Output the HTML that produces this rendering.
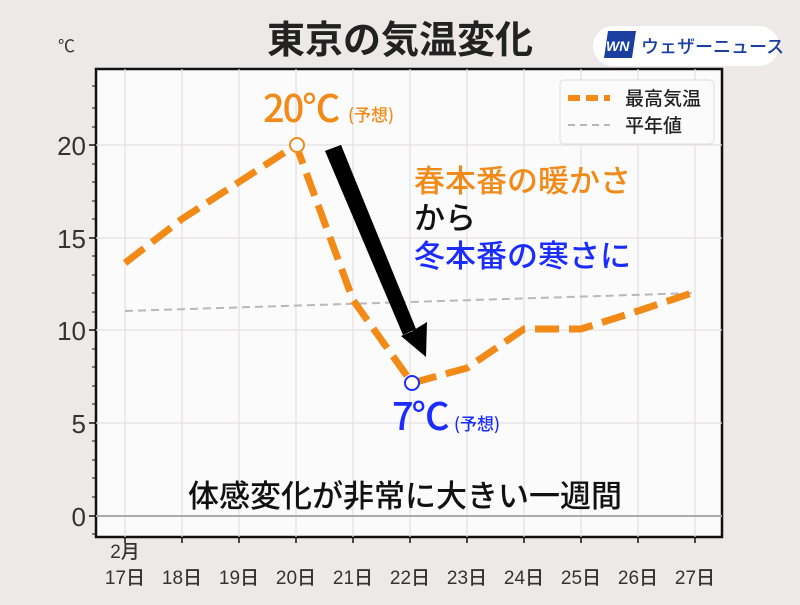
<!DOCTYPE html>
<html><head><meta charset="utf-8"><style>
body{margin:0;width:800px;height:600px;background:#ece9e8;overflow:hidden}
svg text{font-family:"Liberation Sans","Noto Sans CJK JP",sans-serif}
.m{font-family:"Noto Sans CJK JP","Liberation Sans",sans-serif;font-weight:500}
</style></head><body>
<svg width="800" height="600" viewBox="0 0 800 600">
<rect x="96" y="69" width="626" height="468" fill="#fcfbfc" stroke="#111" stroke-width="2.5"/>
<g stroke="#e3e0e2" stroke-width="1.2">
<line x1="125" y1="69" x2="125" y2="537"/><line x1="182" y1="69" x2="182" y2="537"/><line x1="239" y1="69" x2="239" y2="537"/><line x1="296" y1="69" x2="296" y2="537"/><line x1="353" y1="69" x2="353" y2="537"/><line x1="410" y1="69" x2="410" y2="537"/><line x1="467" y1="69" x2="467" y2="537"/><line x1="524" y1="69" x2="524" y2="537"/><line x1="581" y1="69" x2="581" y2="537"/><line x1="638" y1="69" x2="638" y2="537"/><line x1="695" y1="69" x2="695" y2="537"/>
<line x1="96" y1="145" x2="722" y2="145"/><line x1="96" y1="238" x2="722" y2="238"/><line x1="96" y1="330" x2="722" y2="330"/><line x1="96" y1="423" x2="722" y2="423"/>
</g>
<line x1="96" y1="516" x2="722" y2="516" stroke="#aaa" stroke-width="2"/>
<g stroke="#111" stroke-width="1.5">
<line x1="89" y1="145" x2="96" y2="145"/><line x1="89" y1="238" x2="96" y2="238"/><line x1="89" y1="330" x2="96" y2="330"/><line x1="89" y1="423" x2="96" y2="423"/><line x1="89" y1="516" x2="96" y2="516"/>
<line x1="125" y1="537" x2="125" y2="543"/><line x1="182" y1="537" x2="182" y2="543"/><line x1="239" y1="537" x2="239" y2="543"/><line x1="296" y1="537" x2="296" y2="543"/><line x1="353" y1="537" x2="353" y2="543"/><line x1="410" y1="537" x2="410" y2="543"/><line x1="467" y1="537" x2="467" y2="543"/><line x1="524" y1="537" x2="524" y2="543"/><line x1="581" y1="537" x2="581" y2="543"/><line x1="638" y1="537" x2="638" y2="543"/><line x1="695" y1="537" x2="695" y2="543"/>
</g>
<g stroke="#111" stroke-width="1">
<line x1="92" y1="86" x2="96" y2="86"/><line x1="92" y1="108" x2="96" y2="108"/><line x1="92" y1="127" x2="96" y2="127"/><line x1="92" y1="164" x2="96" y2="164"/><line x1="92" y1="182" x2="96" y2="182"/><line x1="92" y1="201" x2="96" y2="201"/><line x1="92" y1="219" x2="96" y2="219"/><line x1="92" y1="256" x2="96" y2="256"/><line x1="92" y1="275" x2="96" y2="275"/><line x1="92" y1="293" x2="96" y2="293"/><line x1="92" y1="312" x2="96" y2="312"/><line x1="92" y1="349" x2="96" y2="349"/><line x1="92" y1="367" x2="96" y2="367"/><line x1="92" y1="386" x2="96" y2="386"/><line x1="92" y1="404" x2="96" y2="404"/><line x1="92" y1="441" x2="96" y2="441"/><line x1="92" y1="460" x2="96" y2="460"/><line x1="92" y1="478" x2="96" y2="478"/><line x1="92" y1="497" x2="96" y2="497"/><line x1="92" y1="534" x2="96" y2="534"/>
</g>
<g font-size="26" fill="#333" text-anchor="end">
<text x="86" y="155">20</text><text x="86" y="248">15</text><text x="86" y="340">10</text><text x="86" y="433">5</text><text x="86" y="526">0</text>
</g>
<text x="58" y="52" font-size="17" fill="#333">℃</text>
<g font-size="19" fill="#333" text-anchor="middle" class="m">
<text x="125" y="558">2月</text>
<text x="125" y="584">17日</text><text x="182" y="584">18日</text><text x="239" y="584">19日</text><text x="296" y="584">20日</text><text x="353" y="584">21日</text><text x="410" y="584">22日</text><text x="467" y="584">23日</text><text x="524" y="584">24日</text><text x="581" y="584">25日</text><text x="638" y="584">26日</text><text x="695" y="584">27日</text>
</g>
<polyline points="125,311 695,293" fill="none" stroke="#b8b8b8" stroke-width="2" stroke-dasharray="8,5"/>
<polyline points="125,263 182,219 239,182 296,145 353,300 412,383 467,368 524,329 581,329 638,311 695,292" fill="none" stroke="#f28a18" stroke-width="7" stroke-dasharray="24,10"/>
<circle cx="297" cy="145" r="7" fill="#fff" stroke="#f28a18" stroke-width="2"/>
<circle cx="412" cy="383" r="7" fill="#fff" stroke="#1a2cff" stroke-width="2"/>
<polygon points="325,151 341,145 414,330 427,322 426,357 401,336 413,331 " fill="#000"/>
<polygon points="325,151 341,145 416,329 403,335" fill="#000"/>
<text x="263" y="122" font-size="38" fill="#f28a18" class="m" letter-spacing="-2">20℃</text><text x="348" y="121" font-size="17" fill="#f28a18" class="m" font-weight="bold">(予想)</text>
<text x="392" y="430" font-size="38" fill="#1a2cff" class="m" letter-spacing="-2">7℃</text><text x="454" y="430" font-size="17" fill="#1a2cff" class="m" font-weight="bold">(予想)</text>
<text x="414" y="192" font-size="31" fill="#f28a18" class="m">春本番の暖かさ</text>
<text x="414" y="229" font-size="31" fill="#111" class="m">から</text>
<text x="414" y="267" font-size="31" fill="#1a2cff" class="m">冬本番の寒さに</text>
<text x="405" y="507" font-size="31" fill="#111" text-anchor="middle" class="m">体感変化が非常に大きい一週間</text>
<rect x="560" y="80" width="154" height="64" rx="4" fill="#fcfbfc" stroke="#ddd"/>
<line x1="568" y1="98" x2="610" y2="98" stroke="#f28a18" stroke-width="6" stroke-dasharray="12,6"/>
<line x1="568" y1="125" x2="610" y2="125" stroke="#b8b8b8" stroke-width="2" stroke-dasharray="7,5"/>
<text x="625" y="105" font-size="19" fill="#222" class="m">最高気温</text>
<text x="625" y="132" font-size="19" fill="#222" class="m">平年値</text>
<text x="400" y="53" font-size="38" font-weight="bold" fill="#222" text-anchor="middle" class="m" style="font-weight:bold">東京の気温変化</text>
<rect x="593" y="26" width="186" height="40" rx="20" fill="#fff"/>
<polygon points="608,31 636,31 632,58 604,58" fill="#1a3fa0"/>
<text x="606" y="51" font-size="14" font-weight="bold" font-style="italic" fill="#fff">WN</text>
<text x="641" y="53" font-size="18" fill="#1a3fa0" class="m">ウェザーニュース</text>
</svg>
</body></html>
